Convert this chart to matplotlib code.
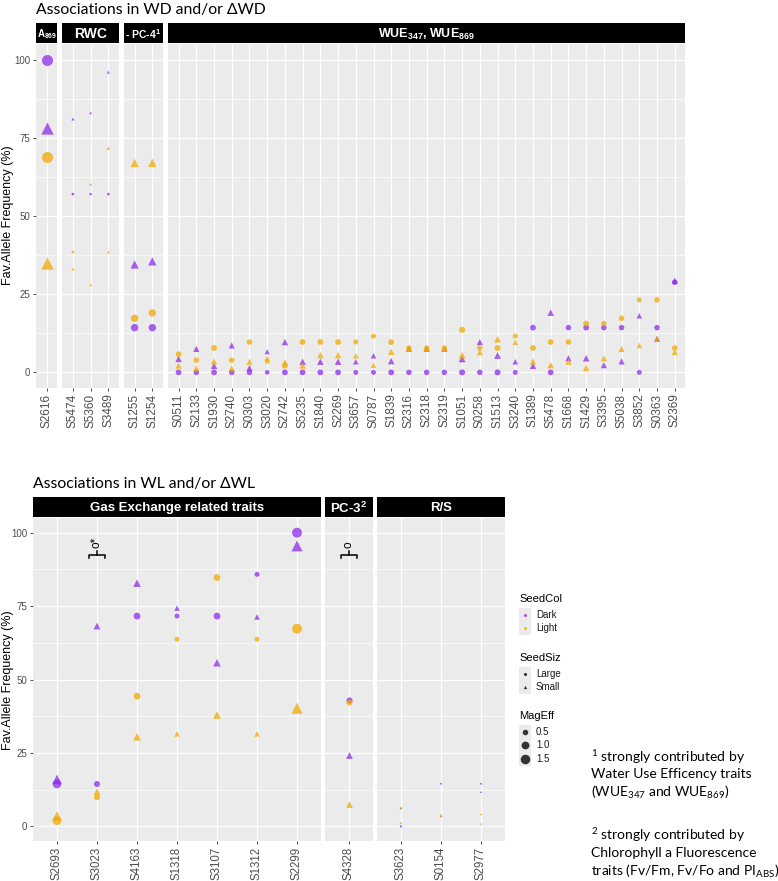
import numpy as np
import matplotlib
matplotlib.use("Agg")
import matplotlib.pyplot as plt
from matplotlib.patches import Rectangle

plt.rcParams['font.family'] = ['Liberation Sans', 'DejaVu Sans']
plt.rcParams['mathtext.fontset'] = 'custom'
plt.rcParams['mathtext.rm'] = 'Lato'
plt.rcParams['mathtext.bf'] = 'Liberation Sans:bold'

# ---------------- dados ----------------
# cada SNP tem 4 pontos: escuro/grande, escuro/pequeno, claro/grande, claro/pequeno

# painel superior: associacoes em WD e/ou dWD
a869_snp = ["S2616"]
a869_dl = [100]
a869_ds = [78]
a869_ll = [69]
a869_ls = [35]
a869_mag = [2.0]

rwc_snp = ["S5474", "S5360", "S3489"]
rwc_dl = [57, 57, 57]
rwc_ds = [81, 83, 96]
rwc_ll = [38.5, 60, 71.5]
rwc_ls = [33, 28, 38.5]
rwc_mag = [0.12, 0.1, 0.12]

pc4_snp = ["S1255", "S1254"]
pc4_dl = [14.3, 14.3]
pc4_ds = [34.5, 35.5]
pc4_ll = [17.3, 19]
pc4_ls = [67, 67]
pc4_mag = [0.9, 0.9]

wue_snp = ["S0511", "S2133", "S1930", "S2740", "S0303", "S3020", "S2742", "S5235",
           "S1840", "S2269", "S3657", "S0787", "S1839", "S2316", "S2318", "S2319",
           "S1051", "S0258", "S1513", "S3240", "S1389", "S5478", "S1668", "S1429",
           "S3395", "S5038", "S3852", "S0363", "S2369"]
wue_dl = [0, 0, 0, 0, 0, 0, 0, 0, 0, 0, 0, 0, 0, 0, 0, 0,
          0, 0, 0, 0, 14.3, 0, 14.3, 14.3, 14.3, 14.3, 0, 14.3, 28.8]
wue_ds = [4.3, 7.5, 2.1, 8.6, 1.4, 6.6, 9.7, 3.4, 3.4, 3.4, 3.4, 5.3, 3.6, 7.6, 7.6, 7.6,
          4.3, 9.7, 5.4, 3.4, 2.1, 19.1, 4.5, 4.5, 2.3, 3.5, 18.1, 10.7, 29.3]
wue_ll = [5.8, 3.9, 7.8, 3.9, 9.7, 3.5, 2.1, 9.7, 9.7, 9.7, 9.7, 11.6, 9.7, 7.7, 7.7, 7.7,
          13.6, 7.8, 7.8, 11.6, 7.8, 9.7, 9.7, 15.6, 15.6, 17.3, 23.2, 23.2, 7.8]
wue_ls = [2.2, 1.3, 3.5, 1.3, 3.4, 4.5, 3.2, 2.2, 5.5, 5.5, 5.3, 2.3, 6.6, 7.7, 7.7, 7.7,
          5.5, 6.4, 10.6, 9.6, 3.5, 2.3, 3.4, 1.4, 4.5, 7.5, 8.6, 10.7, 6.5]
wue_mag = [0.55, 0.5, 0.55, 0.5, 0.5, 0.35, 0.55, 0.55, 0.55, 0.55, 0.4, 0.4, 0.55, 0.5, 0.5,
           0.5, 0.6, 0.5, 0.6, 0.4, 0.55, 0.55, 0.5, 0.55, 0.5, 0.5, 0.4, 0.5, 0.5]

# painel inferior: associacoes em WL e/ou dWL
gas_snp = ["S2693", "S3023", "S4163", "S1318", "S3107", "S1312", "S2299"]
gas_dl = [14.4, 14.4, 71.6, 71.6, 71.6, 85.8, 100]
gas_ds = [16, 68.2, 82.8, 74.3, 55.7, 71.3, 95.5]
gas_ll = [1.9, 9.9, 44.3, 63.7, 84.7, 63.7, 67.3]
gas_ls = [3.5, 11.8, 30.5, 31.5, 37.9, 31.5, 40.2]
gas_mag = [1.2, 0.6, 0.75, 0.4, 0.75, 0.4, 1.6]

pc3_snp = ["S4328"]
pc3_dl = [43]
pc3_ds = [24.3]
pc3_ll = [42.5]
pc3_ls = [7.6]
pc3_mag = [0.6]

rs_snp = ["S3623", "S0154", "S2977"]
rs_dl = [0, 14.5, 14.5]
rs_ds = [6.3, 3.5, 11.7]
rs_ll = [6.0, 3.3, 4.0]
rs_ls = [1.2, 4.0, 0.9]
rs_mag = [0.08, 0.06, 0.06]

seedcol = ["Dark", "Light"]
seedsiz = ["Large", "Small"]
mag_legend = [0.5, 1.0, 1.5]

# ---------------- estilo ----------------
purple = "#8E2BEA"
orange = "#F2A900"
alpha = 0.75
W, H = 778, 881

fig = plt.figure(figsize=(W / 100, H / 100), dpi=100)


def px_axes(x0, y0, x1, y1):
    return fig.add_axes([x0 / W, 1 - y1 / H, (x1 - x0) / W, (y1 - y0) / H])


def msize(m):
    return 31.5 * np.asarray(m)


def panel(x0, x1, y0, y1, strip_h, title, title_size, snps, dl, ds, ll, ls, mag,
          show_y, xfont):
    ax = px_axes(x0, y0, x1, y1)
    ax.set_facecolor("#EBEBEB")
    x = np.arange(len(snps))
    for vals, col, mk, k in [(dl, purple, "o", 1.0), (ds, purple, "^", 1.25),
                             (ll, orange, "o", 1.0), (ls, orange, "^", 1.25)]:
        ax.scatter(x, vals, s=msize(mag) * k, c=col, marker=mk, alpha=alpha,
                   linewidths=0, zorder=3)
    ax.set_xlim(-0.6, len(snps) - 0.4)
    ax.set_ylim(-5, 105)
    ax.set_xticks(x)
    ax.set_xticklabels(snps, rotation=90, fontsize=xfont, color="#4D4D4D")
    ax.set_yticks([0, 25, 50, 75, 100])
    ax.set_yticks([12.5, 37.5, 62.5, 87.5], minor=True)
    ax.grid(True, which="major", color="white", lw=0.9)
    ax.grid(True, which="minor", axis="y", color="white", lw=0.45)
    ax.set_axisbelow(True)
    ax.tick_params(axis="both", which="major", length=2.5, width=0.6, color="#333333",
                   pad=1.5)
    ax.tick_params(axis="y", which="minor", length=0)
    if show_y:
        ax.tick_params(axis="y", labelsize=7, labelcolor="#4D4D4D")
    else:
        ax.tick_params(axis="y", length=0, labelleft=False)
    for sp in ax.spines.values():
        sp.set_visible(False)
    # faixa preta do titulo do painel
    st = px_axes(x0, y0 - strip_h - 1, x1, y0 - 1)
    st.set_facecolor("black")
    st.set_xticks([])
    st.set_yticks([])
    for sp in st.spines.values():
        sp.set_visible(False)
    st.text(0.5, 0.45, title, color="white", fontsize=title_size, fontweight="bold",
            ha="center", va="center", transform=st.transAxes)
    return ax


# ---------------- painel superior ----------------
s1 = 17.72
top_y0, top_y1 = 44, 388
xs = 36
top_panels = [
    (r"A$_{\mathbf{869}}$", 7, a869_snp, a869_dl, a869_ds, a869_ll, a869_ls, a869_mag),
    ("RWC", 10, rwc_snp, rwc_dl, rwc_ds, rwc_ll, rwc_ls, rwc_mag),
    (r"- PC-4$^{\mathbf{1}}$", 7.5, pc4_snp, pc4_dl, pc4_ds, pc4_ll, pc4_ls, pc4_mag),
    (r"WUE$_{\mathbf{347}}$, WUE$_{\mathbf{869}}$", 9, wue_snp, wue_dl, wue_ds, wue_ll,
     wue_ls, wue_mag),
]
for i, (t, ts, sn, a, b, c, d, m) in enumerate(top_panels):
    w = (len(sn) + 0.2) * s1
    panel(xs, xs + w, top_y0, top_y1, 20, t, ts, sn, a, b, c, d, m, i == 0, 8.5)
    xs += w + 5

fig.text(36 / W, 1 - 10 / H, "Associations in WD and/or ΔWD", fontsize=11.3,
         family=["Lato", "DejaVu Sans"], va="center", ha="left")
fig.text(8 / W, 1 - 215 / H, "Fav.Allele Frequency (%)", rotation=90, fontsize=9,
         va="center", ha="center")

# ---------------- painel inferior ----------------
s2 = 40
bot_y0, bot_y1 = 518, 841
xs = 33
bot_axes = []
bot_panels = [
    ("Gas Exchange related traits", 9.5, gas_snp, gas_dl, gas_ds, gas_ll, gas_ls, gas_mag),
    (r"PC-3$^{\mathbf{2}}$", 9.5, pc3_snp, pc3_dl, pc3_ds, pc3_ll, pc3_ls, pc3_mag),
    ("R/S", 9.5, rs_snp, rs_dl, rs_ds, rs_ll, rs_ls, rs_mag),
]
for i, (t, ts, sn, a, b, c, d, m) in enumerate(bot_panels):
    w = (len(sn) + 0.2) * s2
    bot_axes.append(panel(xs, xs + w, bot_y0, bot_y1, 20, t, ts, sn, a, b, c, d, m,
                          i == 0, 8.3))
    xs += w + 4

fig.text(33 / W, 1 - 484 / H, "Associations in WL and/or ΔWL", fontsize=11.3,
         family=["Lato", "DejaVu Sans"], va="center", ha="left")
fig.text(8 / W, 1 - 680 / H, "Fav.Allele Frequency (%)", rotation=90, fontsize=9,
         va="center", ha="center")


# colchetes de significancia
def bracket(ax, xc, label):
    ax.plot([xc - 0.2, xc - 0.2, xc + 0.2, xc + 0.2], [91.5, 92.4, 92.4, 91.5],
            color="black", lw=1.1, zorder=4)
    ax.plot([xc, xc], [92.4, 93.6], color="black", lw=1.1, zorder=4)
    ax.text(xc, 94.8, label, rotation=90, ha="center", va="bottom", fontsize=8.5)


bracket(bot_axes[0], 1, "o*")
bracket(bot_axes[1], 0, "o")

# ---------------- legenda ----------------
lg = px_axes(515, 590, 600, 775)
lg.set_xlim(515, 600)
lg.set_ylim(775, 590)
lg.axis("off")
groups = [
    ("SeedCol", 599, seedcol, [purple, orange], ["o", "o"], [5, 5]),
    ("SeedSiz", 658, seedsiz, ["#333333", "#333333"], ["o", "^"], [5, 6]),
    ("MagEff", 716, [str(v) for v in mag_legend], ["#333333"] * 3, ["o"] * 3,
     list(msize(mag_legend))),
]
for title, ty, labels, cols, mks, sizes in groups:
    lg.text(519, ty, title, fontsize=8, va="center", ha="left")
    for j, lab in enumerate(labels):
        yc = ty + 9 + 6.75 + j * 13.5
        lg.add_patch(Rectangle((519, yc - 6.75), 12, 13.5, facecolor="#EBEBEB",
                               edgecolor="none"))
        lg.scatter([525], [yc], s=sizes[j], c=cols[j], marker=mks[j], linewidths=0,
                   alpha=alpha if title == "SeedCol" else 1.0)
        lg.text(536, yc, lab, fontsize=7, va="center", ha="left", color="#1A1A1A")

# ---------------- notas ----------------
notes = [
    (757, r"$^{1}$ strongly contributed by"),
    (774, "Water Use Efficency traits"),
    (792, r"(WUE$_{347}$ and WUE$_{869}$)"),
    (835, r"$^{2}$ strongly contributed by"),
    (853, "Chlorophyll a Fluorescence"),
    (871, r"traits (Fv/Fm, Fv/Fo and PI$_{\mathrm{ABS}}$)"),
]
for y, t in notes:
    fig.text(591 / W, 1 - y / H, t, fontsize=10, family=["Lato", "DejaVu Sans"],
             va="center", ha="left")

fig.savefig("out.png", dpi=100)
